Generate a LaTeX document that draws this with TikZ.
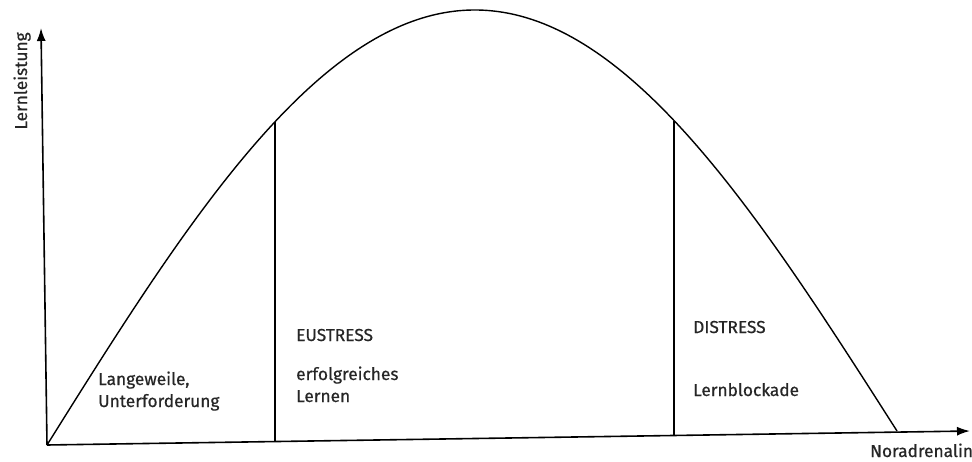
\documentclass[tikz,border=0pt]{standalone}
\usepackage{fontspec}
\setmainfont{Fira Sans}[FakeBold=0.6]
\usetikzlibrary{arrows.meta}

\tikzset{
  lbl/.style={inner sep=0pt, align=left, text=black!85, font=\fontsize{17.3}{22}\selectfont},
  axis/.style={line width=1.6pt, -{Latex[length=13pt,width=9pt]}},
  zone/.style={line width=1.2pt}
}

\begin{document}
\begin{tikzpicture}[x=1pt, y=1pt]
\useasboundingbox (0,0) rectangle (972,461);
\coordinate (O) at (47,16);
\coordinate (xend) at (970,30);
\coordinate (yend) at (41,433);
\draw[axis] (O) -- (xend);
\draw[axis] (O) -- (yend);
\node[lbl, rotate=90, anchor=base] (ylab) at (27,380) {Lernleistung};
\node[lbl, anchor=base west] (xlab) at (870,4) {Noradrenalin};
% Leistungskurve
\draw[line width=1.4pt, domain=47:897, samples=150, smooth]
  plot (\x, {16 + (\x-47)/850*14 + 428*sin((\x-47)/850*180)});
\coordinate (eu) at (275,19.8);
\coordinate (eutop) at (275,339.3);
\coordinate (dis) at (674,26.3);
\coordinate (distop) at (674,340.3);
\draw[zone] (eu) -- (eutop);
\draw[zone] (dis) -- (distop);
\node[lbl, anchor=base west] (lang) at (98,54) {Langeweile,\\Unterforderung};
\node[lbl, anchor=base west] (eustress) at (296,120) {EUSTRESS};
\node[lbl, anchor=base west] (erfolg) at (296,59) {erfolgreiches\\Lernen};
\node[lbl, anchor=base west] (distress) at (693,128) {DISTRESS};
\node[lbl, anchor=base west] (block) at (693,65) {Lernblockade};
\end{tikzpicture}
\end{document}
